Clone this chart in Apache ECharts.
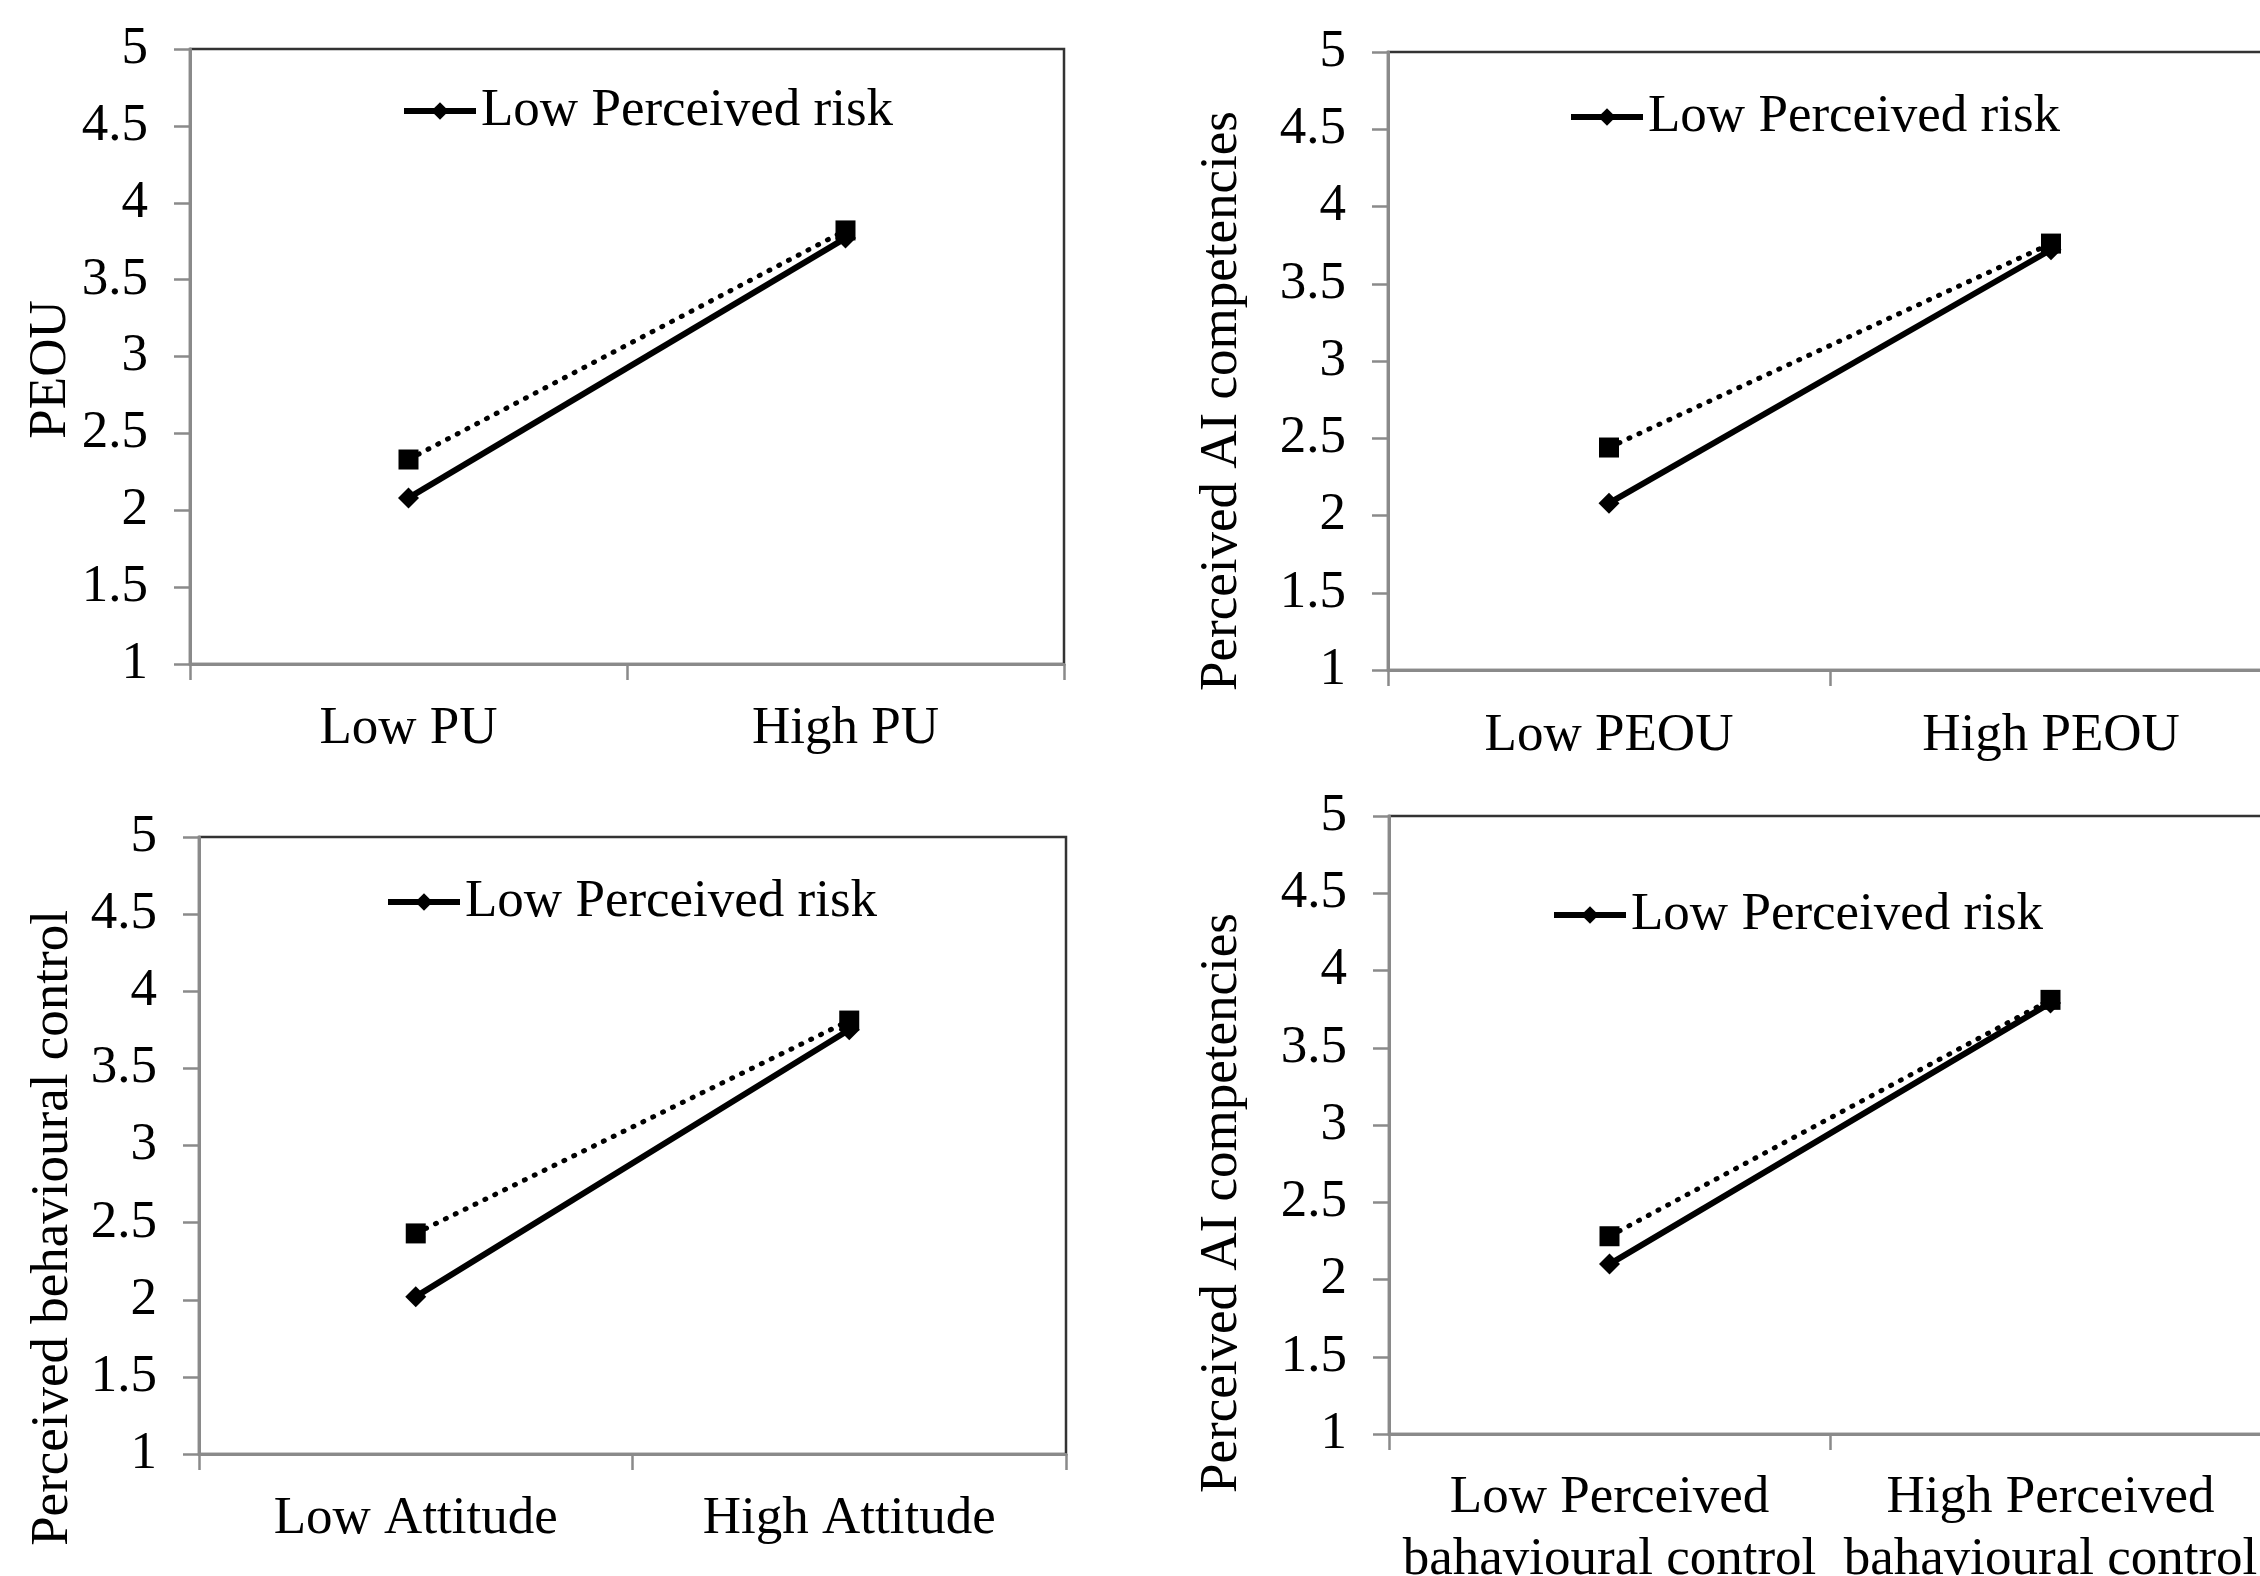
<!DOCTYPE html>
<html>
<head>
<meta charset="utf-8">
<script src="https://cdn.jsdelivr.net/npm/echarts@6/dist/echarts.min.js"></script>
<style>
html,body{margin:0;padding:0;background:#fff;}
#chart{width:2260px;height:1576px;}
</style>
</head>
<body>
<div id="chart"></div>
<script>
// ---- data ----
var categories1 = ['Low PU', 'High PU'];
var categories2 = ['Low PEOU', 'High PEOU'];
var categories3 = ['Low Attitude', 'High Attitude'];
var categories4 = ['Low Perceived\nbahavioural control', 'High Perceived\nbahavioural control'];

var lowRisk1 = [2.08, 3.77];
var highRisk1 = [2.33, 3.82];
var lowRisk2 = [2.08, 3.72];
var highRisk2 = [2.44, 3.76];
var lowRisk3 = [2.02, 3.75];
var highRisk3 = [2.43, 3.81];
var lowRisk4 = [2.10, 3.79];
var highRisk4 = [2.28, 3.81];

var yTitles = ['PEOU', 'Perceived AI competencies', 'Perceived behavioural control', 'Perceived AI competencies'];
var legendName = 'Low Perceived risk';
var otherName = 'High Perceived risk';

// ---- styling / layout ----
var FONT = '"Liberation Serif", "Times New Roman", serif';
var AXIS_GRAY = '#8a8a8a';

var grids = [
  {left: 190, top: 49, width: 874, height: 615},
  {left: 1388, top: 52, width: 884, height: 618},
  {left: 199, top: 837, width: 867, height: 617},
  {left: 1389, top: 816, width: 882, height: 618}
];
var nameGaps = [112, 139, 119, 140];
var namePadRight = [26, 80, 165, 156];
var xMargins = [34, 35, 34, 33];
var legendPos = [
  {left: 401, cy: 111},
  {left: 1568, cy: 117},
  {left: 385, cy: 902},
  {left: 1551, cy: 915}
];
var cats = [categories1, categories2, categories3, categories4];
var lows = [lowRisk1, lowRisk2, lowRisk3, lowRisk4];
var highs = [highRisk1, highRisk2, highRisk3, highRisk4];

var option = {
  backgroundColor: '#fff',
  animation: false,
  grid: [], xAxis: [], yAxis: [], series: [], legend: []
};

for (var i = 0; i < 4; i++) {
  var g = grids[i];
  option.grid.push({
    left: g.left, top: g.top, width: g.width, height: g.height,
    containLabel: false, outerBoundsMode: 'none',
    show: true, borderColor: '#333', borderWidth: 2.5, backgroundColor: 'transparent'
  });
  option.xAxis.push({
    type: 'category', gridIndex: i, data: cats[i], boundaryGap: true,
    axisLine: {lineStyle: {color: AXIS_GRAY, width: 3}},
    axisTick: {show: true, length: 16, alignWithLabel: false, lineStyle: {color: AXIS_GRAY, width: 2.5}},
    axisLabel: {
      interval: 0, margin: xMargins[i], color: '#000', fontFamily: FONT,
      fontSize: 53, lineHeight: 62
    }
  });
  option.yAxis.push({
    type: 'value', gridIndex: i, min: 1, max: 5, interval: 0.5,
    name: yTitles[i], nameLocation: 'middle', nameGap: nameGaps[i],
    nameTextStyle: {color: '#000', fontFamily: FONT, fontSize: 53, padding: [0, namePadRight[i], 0, 0]},
    axisLine: {show: true, lineStyle: {color: AXIS_GRAY, width: 3}},
    axisTick: {show: true, length: 16, lineStyle: {color: AXIS_GRAY, width: 2.5}},
    splitLine: {show: false},
    axisLabel: {margin: 42, color: '#000', fontFamily: FONT, fontSize: 53}
  });
  option.series.push({
    name: legendName, type: 'line', xAxisIndex: i, yAxisIndex: i,
    data: lows[i], symbol: 'diamond', symbolSize: 21,
    lineStyle: {color: '#000', width: 6},
    itemStyle: {color: '#000'}, z: 3
  });
  option.series.push({
    name: otherName, type: 'line', xAxisIndex: i, yAxisIndex: i,
    data: highs[i], symbol: 'rect', symbolSize: 20,
    lineStyle: {color: '#000', width: 5, type: [1, 10], cap: 'round'},
    itemStyle: {color: '#000'}, z: 4
  });
  option.legend.push({
    data: [legendName], left: legendPos[i].left, top: legendPos[i].cy - 31,
    padding: 0, itemWidth: 72, itemHeight: 22, itemGap: 0, selectedMode: false,
    lineStyle: {width: 6, color: '#000'},
    itemStyle: {color: '#000'},
    textStyle: {color: '#000', fontFamily: FONT, fontSize: 53, lineHeight: 62}
  });
}

var chart = echarts.init(document.getElementById('chart'), null, {renderer: 'canvas'});
chart.setOption(option);
</script>
</body>
</html>
